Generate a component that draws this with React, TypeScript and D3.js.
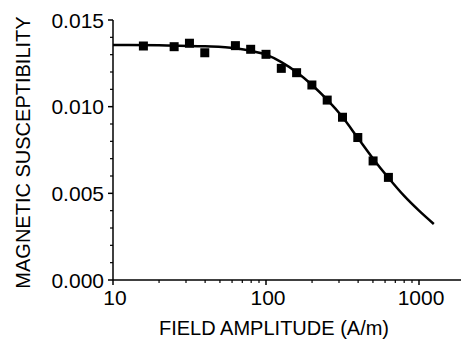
import React from "react";
import * as d3 from "d3";

const fieldValues = [15.8, 25.1, 31.6, 39.8, 63.1, 79.4, 100, 125.9, 158.5, 199.5, 251.2, 316.2, 398.1, 501.2, 631.0];
const susceptibility = [0.0135, 0.01346, 0.01366, 0.01311, 0.01352, 0.01331, 0.01302, 0.01221, 0.01196, 0.01125, 0.01038, 0.00939, 0.00822, 0.00687, 0.00592];

const fitField = [10, 20, 40, 63, 80, 100, 126, 158, 200, 251, 316, 398, 501, 631, 800, 1000, 1250];
const fitChi = [0.01356, 0.01354, 0.01348, 0.01337, 0.01322, 0.01300, 0.01257, 0.0120, 0.01125, 0.0104, 0.0094, 0.0082, 0.0070, 0.0059, 0.00485, 0.0040, 0.00323];

const xMajorTicks = [10, 100, 1000];
const xMinorTicks = [20, 30, 40, 50, 60, 70, 80, 90, 200, 300, 400, 500, 600, 700, 800, 900];
const yMajorTicks = [0, 0.005, 0.01, 0.015];
const yTickLabels = ["0.000", "0.005", "0.010", "0.015"];
const yMinorTicks = [0.001, 0.002, 0.003, 0.004, 0.006, 0.007, 0.008, 0.009, 0.011, 0.012, 0.013, 0.014];

const xTitle = "FIELD AMPLITUDE (A/m)";
const yTitle = "MAGNETIC SUSCEPTIBILITY";

export default function App() {
  const W = 461, H = 341;
  const x = d3.scaleLog().domain([10, 1000]).range([113, 419]);
  const y = d3.scaleLinear().domain([0, 0.015]).range([280, 20]);
  const font = "'Liberation Sans', Arial, Helvetica, sans-serif";

  const line = d3
    .line<number>()
    .x((_, i) => x(fitField[i]))
    .y((d) => y(d))
    .curve(d3.curveMonotoneX);

  const ms = 9;

  return (
    <svg width={W} height={H} style={{ position: "absolute", left: 0, top: 0, background: "#fff" }}>
      <line x1={113} y1={y(0.015)} x2={113} y2={280} stroke="#000" strokeWidth={1.5} />
      <line x1={113} y1={280} x2={470} y2={280} stroke="#000" strokeWidth={1.5} />
      {yMajorTicks.map((t, i) => (
        <g key={"ym" + i}>
          <line x1={108} x2={113} y1={y(t)} y2={y(t)} stroke="#000" strokeWidth={1.5} />
          <text x={104} y={y(t)} dy="0.36em" textAnchor="end" fontFamily={font} fontSize={21} fill="#000">
            {yTickLabels[i]}
          </text>
        </g>
      ))}
      {yMinorTicks.map((t, i) => (
        <line key={"yn" + i} x1={110} x2={113} y1={y(t)} y2={y(t)} stroke="#000" strokeWidth={1.2} />
      ))}
      {xMajorTicks.map((t, i) => (
        <g key={"xm" + i}>
          <line x1={x(t)} x2={x(t)} y1={280} y2={285} stroke="#000" strokeWidth={1.5} />
          <text x={x(t) + 2} y={305} textAnchor="middle" fontFamily={font} fontSize={21} fill="#000">
            {String(t)}
          </text>
        </g>
      ))}
      {xMinorTicks.map((t, i) => (
        <line key={"xn" + i} x1={x(t)} x2={x(t)} y1={280} y2={283} stroke="#000" strokeWidth={1.2} />
      ))}
      <text x={274} y={335} textAnchor="middle" fontFamily={font} fontSize={20} fill="#000">
        {xTitle}
      </text>
      <text
        transform={`translate(30,152.5) rotate(-90)`}
        textAnchor="middle"
        fontFamily={font}
        fontSize={20}
        fill="#000"
      >
        {yTitle}
      </text>
      <path d={line(fitChi) || ""} fill="none" stroke="#000" strokeWidth={2.5} />
      {susceptibility.map((v, i) => (
        <rect
          key={"p" + i}
          x={x(fieldValues[i]) - ms / 2}
          y={y(v) - ms / 2}
          width={ms}
          height={ms}
          fill="#000"
        />
      ))}
    </svg>
  );
}
